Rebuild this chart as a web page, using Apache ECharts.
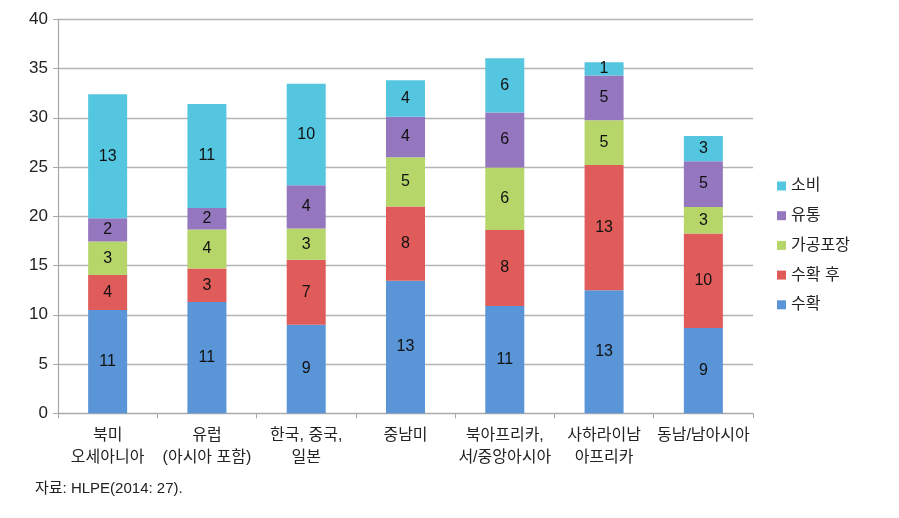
<!DOCTYPE html>
<html><head><meta charset="utf-8">
<script src="https://cdn.jsdelivr.net/npm/echarts@6/dist/echarts.min.js"></script>
<style>html,body{margin:0;padding:0;background:#fff}#c{width:899px;height:518px}</style>
</head><body><div id="c"></div>
<script>
var categories = ['북미\n오세아니아', '유럽\n(아시아 포함)', '한국, 중국,\n일본', '중남미', '북아프리카,\n서/중앙아시아', '사하라이남\n아프리카', '동남/남아시아'];
var harvest     = [10.5, 11.3, 9.0, 13.45, 10.9, 12.5, 8.65];
var postHarvest = [3.55, 3.4, 6.6, 7.55, 7.7, 12.7, 9.6];
var processing  = [3.4, 3.95, 3.15, 5.0, 6.35, 4.55, 2.7];
var distribution= [2.35, 2.2, 4.4, 4.1, 5.6, 4.55, 4.65];
var consumption = [12.6, 10.55, 10.3, 3.7, 5.5, 1.35, 2.55];
var seriesNames = ['수확', '수확 후', '가공포장', '유통', '소비'];
var legendOrder = ['소비', '유통', '가공포장', '수확 후', '수확'];
var yTicks = [0, 40, 5];

var colors = ['#5A95D8', '#DF5C5A', '#B6D66A', '#9577C0', '#55C6E0'];
var font = "'Liberation Sans','Noto Sans CJK KR',sans-serif";
var allData = [harvest, postHarvest, processing, distribution, consumption];

var chart = echarts.init(document.getElementById('c'), null, {renderer: 'canvas'});
chart.setOption({
  animation: false,
  textStyle: {fontFamily: font},
  grid: {left: 58, right: 146, top: 19.3, bottom: 104.7, containLabel: false},
  legend: {
    data: legendOrder, orient: 'vertical', left: 772, top: 173,
    itemWidth: 9, itemHeight: 9, itemGap: 13.7, icon: 'rect',
    textStyle: {fontSize: 16, color: '#222', fontFamily: font}
  },
  xAxis: {
    type: 'category', data: categories,
    axisLine: {lineStyle: {color: '#a8a8a8', width: 1.2}},
    axisTick: {show: true, length: 5, lineStyle: {color: '#a8a8a8'}},
    axisLabel: {fontSize: 16, color: '#222', lineHeight: 22, margin: 11, interval: 0, fontFamily: font}
  },
  yAxis: {
    type: 'value', min: yTicks[0], max: yTicks[1], interval: yTicks[2],
    axisLine: {show: true, lineStyle: {color: '#a8a8a8', width: 1.2}},
    axisTick: {show: true, length: 5, lineStyle: {color: '#a8a8a8'}},
    axisLabel: {fontSize: 17, color: '#222', margin: 10, fontFamily: font},
    splitLine: {lineStyle: {color: '#b4b4b4', width: 1.3}}
  },
  series: seriesNames.map(function (n, i) {
    return {
      name: n, type: 'bar', stack: 'total', data: allData[i],
      barWidth: 39,
      itemStyle: {color: colors[i]},
      label: {show: true, position: 'inside', fontSize: 16, color: '#111', fontFamily: font,
        formatter: function (p) { return Math.round(p.value); }}
    };
  }),
  graphic: [{
    type: 'text', left: 35, top: 481,
    style: {text: '자료: HLPE(2014: 27).', font: '15px ' + font, fill: '#222'}
  }]
});
</script></body></html>
